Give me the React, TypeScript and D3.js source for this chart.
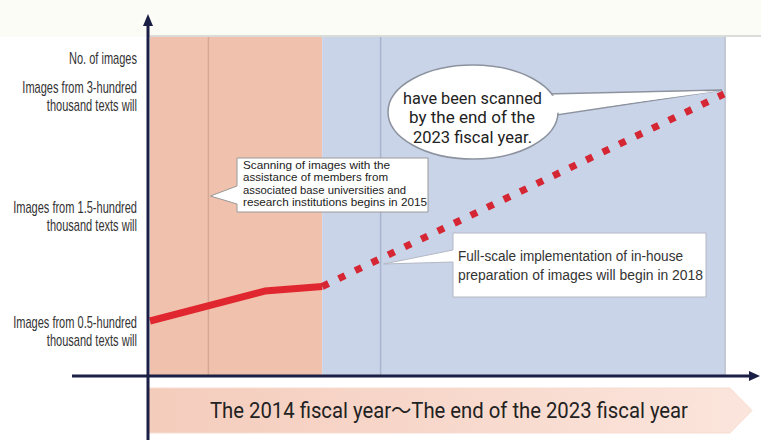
import React, { useEffect, useRef } from "react";
import * as d3 from "d3";

// data
const actualYears = [2014, 2016, 2017];
const actualValues = [0.5, 0.76, 0.8];
const planYears = [2017, 2024];
const planValues = [0.8, 2.9];
const tickValues = [0.5, 1.5, 3];
const tickLabels = [
  ["Images from 0.5-hundred", "thousand texts will"],
  ["Images from 1.5-hundred", "thousand texts will"],
  ["Images from 3-hundred", "thousand texts will"],
];
const phaseStarts = [2014, 2017];
const phaseEnds = [2017, 2024];
const phaseColors = ["#f0c1ac", "#c9d4e9"];
const phaseLineColors = ["#d6a893", "#a9b5cd"];
const milestoneYears = [2015, 2018];

const width = 761;
const height = 440;

function App() {
  const ref = useRef<SVGSVGElement>(null);

  useEffect(() => {
    const svg = d3.select(ref.current);
    svg.selectAll("*").remove();

    const x = d3.scaleLinear().domain([2014, 2024]).range([150, 724]);
    // piecewise scale, the chart is schematic
    const y = d3.scaleLinear().domain([0.5, 1.5, 3]).range([321, 206, 86]);
    const top = 37;
    const base = 376;
    const axisX = x(2014) - 2;
    const navy = "#1c1f45";
    const font = "'Liberation Sans', Arial, sans-serif";

    const defs = svg.append("defs");
    const grad = defs.append("linearGradient").attr("id", "banner").attr("x1", 0).attr("x2", 1);
    grad.append("stop").attr("offset", 0).attr("stop-color", "#f4ccbc");
    grad.append("stop").attr("offset", 1).attr("stop-color", "#fbe5dc");

    svg.append("rect").attr("width", width).attr("height", height).attr("fill", "#fff");
    svg.append("rect").attr("x", 0).attr("y", 0).attr("width", width).attr("height", top)
      .attr("fill", "#fbfcf6");
    svg.append("line").attr("x1", axisX).attr("x2", width).attr("y1", top - 1).attr("y2", top - 1)
      .attr("stroke", "#cfd2cf").attr("stroke-width", 1.5);

    // phase regions
    svg.append("g").selectAll("rect").data(phaseStarts).enter().append("rect")
      .attr("x", d => x(d))
      .attr("y", top)
      .attr("width", (d, i) => x(phaseEnds[i]) - x(d))
      .attr("height", base - top)
      .attr("fill", (d, i) => phaseColors[i]);
    svg.append("line").attr("x1", x(2024) + 1).attr("x2", x(2024) + 1).attr("y1", top).attr("y2", base)
      .attr("stroke", "#aeb6c6").attr("stroke-width", 1.5);
    svg.append("g").selectAll("line").data(milestoneYears).enter().append("line")
      .attr("x1", d => x(d) + 1).attr("x2", d => x(d) + 1)
      .attr("y1", top).attr("y2", base)
      .attr("stroke", (d, i) => phaseLineColors[i]).attr("stroke-width", 1.5);

    // banner
    const bx0 = axisX, bx1 = 730, bTip = 752, bTop = 388, bBot = 433;
    svg.append("path")
      .attr("d", `M${bx0},${bTop}L${bx1},${bTop}L${bTip},${(bTop + bBot) / 2}L${bx1},${bBot}L${bx0},${bBot}Z`)
      .attr("fill", "url(#banner)").attr("stroke", "#f7ddd2").attr("stroke-width", 1);
    svg.append("text").attr("x", 210).attr("y", 418)
      .attr("font-family", "Roboto, 'Noto Sans CJK JP', sans-serif").attr("font-size", 22)
      .attr("textLength", 478).attr("lengthAdjust", "spacingAndGlyphs")
      .attr("fill", "#222").text("The 2014 fiscal year〜The end of the 2023 fiscal year");

    // lines
    const solid = d3.line<[number, number]>().x(d => x(d[0])).y(d => y(d[1]));
    svg.append("path")
      .attr("d", solid(actualYears.map((d, i) => [d, actualValues[i]] as [number, number])))
      .attr("fill", "none").attr("stroke", "#e0262f").attr("stroke-width", 7)
      .attr("stroke-linejoin", "round");
    svg.append("path")
      .attr("d", solid(planYears.map((d, i) => [d, planValues[i]] as [number, number])))
      .attr("fill", "none").attr("stroke", "#d52634").attr("stroke-width", 7)
      .attr("stroke-dasharray", "7 11.3");

    // axes
    svg.append("line").attr("x1", 72).attr("x2", 752).attr("y1", base).attr("y2", base)
      .attr("stroke", navy).attr("stroke-width", 3);
    svg.append("path").attr("d", `M760,${base}L749,${base - 5}L749,${base + 5}Z`).attr("fill", navy);
    svg.append("line").attr("x1", axisX).attr("x2", axisX).attr("y1", height).attr("y2", 22)
      .attr("stroke", navy).attr("stroke-width", 3);
    svg.append("path").attr("d", `M${axisX},14L${axisX - 5},26L${axisX + 5},26Z`).attr("fill", navy);

    // y labels, squeezed like a condensed face
    const labels = svg.append("g").attr("font-family", font).attr("font-size", 16)
      .attr("fill", "#333").attr("text-anchor", "end")
      .attr("transform", "translate(137,0) scale(0.69,1)");
    labels.append("text").attr("x", 0).attr("y", 64).text("No. of images");
    labels.selectAll("g").data(tickValues).enter().append("text")
      .attr("x", 0).attr("y", d => y(d) + 7)
      .each(function (d, i) {
        const t = d3.select(this);
        tickLabels[i].forEach((s, k) => {
          t.append("tspan").attr("x", 0).attr("dy", k === 0 ? 0 : 18.5).text(s);
        });
      });

    // callout 1 (2015)
    const c1 = svg.append("g");
    c1.append("path")
      .attr("d", `M237,158L428,158L428,212L237,212L237,204L${x(2015) + 3},196L237,186Z`)
      .attr("fill", "#fff").attr("stroke", "#9a9a9a").attr("stroke-width", 1);
    const c1Lines = ["Scanning of images with the", "assistance of members from",
      "associated base universities and", "research institutions begins in 2015"];
    const c1Widths = [147, 145, 163, 184];
    c1.selectAll("text").data(c1Lines).enter().append("text")
      .attr("font-family", font).attr("font-size", 11.5).attr("fill", "#222")
      .attr("x", 243).attr("y", (d, i) => 169 + i * 12.3)
      .attr("textLength", (d, i) => c1Widths[i]).attr("lengthAdjust", "spacingAndGlyphs")
      .text(d => d);

    // callout 2 (2018)
    const c2 = svg.append("g");
    c2.append("path")
      .attr("d", `M453,233L706,233L706,297L453,297L453,262L${x(2018) + 4},264L453,250Z`)
      .attr("fill", "#fff").attr("stroke", "#b4b8c4").attr("stroke-width", 1);
    const c2Lines = ["Full-scale implementation of in-house", "preparation of images will begin in 2018"];
    const c2Widths = [225, 245];
    c2.selectAll("text").data(c2Lines).enter().append("text")
      .attr("font-family", font).attr("font-size", 15.5).attr("fill", "#333")
      .attr("x", 458).attr("y", (d, i) => 261 + i * 19)
      .attr("textLength", (d, i) => c2Widths[i]).attr("lengthAdjust", "spacingAndGlyphs")
      .text(d => d);

    // speech bubble
    const endX = x(2024), endY = y(planValues[1]);
    const b = svg.append("g");
    b.append("path")
      .attr("d", `M546,94L${endX - 2},${endY - 4}L550,116Z`)
      .attr("fill", "#fff").attr("stroke", "#8d939e").attr("stroke-width", 1.5);
    b.append("ellipse").attr("cx", 473).attr("cy", 112).attr("rx", 85).attr("ry", 47)
      .attr("fill", "#fff").attr("stroke", "#8d939e").attr("stroke-width", 1.5);
    b.append("path")
      .attr("d", `M544,96L${endX - 5},${endY - 3}L548,114Z`)
      .attr("fill", "#fff");
    const bLines = ["have been scanned", "by the end of the", "2023 fiscal year."];
    const bStarts = [403, 409, 413];
    const bWidths = [139, 126, 119];
    b.selectAll("text").data(bLines).enter().append("text")
      .attr("font-family", "Roboto, sans-serif").attr("font-size", 17).attr("fill", "#222")
      .attr("x", (d, i) => bStarts[i]).attr("y", (d, i) => 104 + i * 19.3)
      .attr("textLength", (d, i) => bWidths[i]).attr("lengthAdjust", "spacingAndGlyphs")
      .text(d => d);
  }, []);

  return (
    <svg ref={ref} width={width} height={height}
      style={{ position: "absolute", left: 0, top: 0, display: "block" }} />
  );
}

export default App;
